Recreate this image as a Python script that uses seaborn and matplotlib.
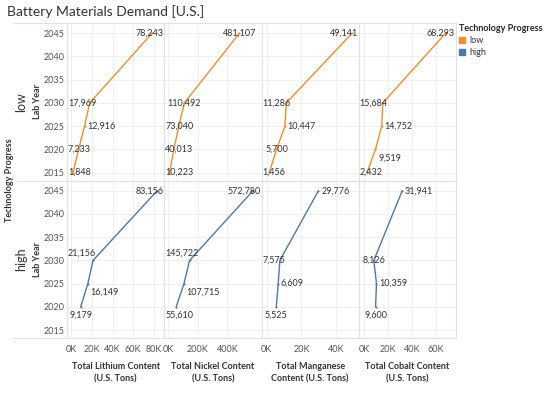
import pandas as pd
import seaborn as sns
import matplotlib.pyplot as plt
from matplotlib.lines import Line2D
from matplotlib.patches import Patch
from matplotlib.ticker import FuncFormatter

# data
progress = ["low", "high"]
materials = ["Lithium", "Nickel", "Manganese", "Cobalt"]
years_low = [2015, 2020, 2025, 2030, 2045]
years_high = [2020, 2025, 2030, 2045]

lithium_low = [1848, 7233, 12916, 17969, 78243]
nickel_low = [10223, 40013, 73040, 110492, 481107]
manganese_low = [1456, 5700, 10447, 11286, 49141]
cobalt_low = [2432, 9519, 14752, 15684, 68293]

lithium_high = [9179, 16149, 21156, 83156]
nickel_high = [55610, 107715, 145722, 572780]
manganese_high = [5525, 6609, 7575, 29776]
cobalt_high = [9600, 10359, 8126, 31941]

x_titles = ["Total Lithium Content\n(U.S. Tons)", "Total Nickel Content\n(U.S. Tons)",
            "Total Manganese\nContent (U.S. Tons)", "Total Cobalt Content\n(U.S. Tons)"]
x_limits = {"Lithium": (-4000, 90000), "Nickel": (-25000, 630000),
            "Manganese": (-3000, 53000), "Cobalt": (-4500, 77000)}
x_ticks = {"Lithium": [0, 20000, 40000, 60000, 80000], "Nickel": [0, 200000, 400000],
           "Manganese": [0, 20000, 40000], "Cobalt": [0, 20000, 40000, 60000]}

# label placement per point: c/l/r horizontally, b = below, a = above
label_pos = {
    ("low", "Lithium"): ["c", "c", "r", "l", "c"],
    ("low", "Nickel"): ["c", "c", "c", "c", "c"],
    ("low", "Manganese"): ["c", "c", "r", "l", "c"],
    ("low", "Cobalt"): ["c", "rb", "r", "l", "c"],
    ("high", "Lithium"): ["cb", "rb", "la", "c"],
    ("high", "Nickel"): ["cb", "rb", "la", "c"],
    ("high", "Manganese"): ["cb", "r", "l", "r"],
    ("high", "Cobalt"): ["cb", "r", "c", "r"],
}

palette = {"low": "#f28e2b", "high": "#4e79a7"}
TXT = "#333333"
TICK = "#555555"

rows = []
for mat, lo, hi in zip(materials,
                       [lithium_low, nickel_low, manganese_low, cobalt_low],
                       [lithium_high, nickel_high, manganese_high, cobalt_high]):
    for yr, v in zip(years_low, lo):
        rows.append({"progress": "low", "material": mat, "year": yr, "tons": v})
    for yr, v in zip(years_high, hi):
        rows.append({"progress": "high", "material": mat, "year": yr, "tons": v})
df = pd.DataFrame(rows)

sns.set_style("white")
plt.rcParams["font.family"] = ["Lato", "DejaVu Sans"]

g = sns.FacetGrid(df, row="progress", col="material", row_order=progress, col_order=materials,
                  sharex="col", sharey=True, height=1.6, aspect=0.6, despine=False)
g.map_dataframe(sns.lineplot, x="tons", y="year", hue="progress", hue_order=progress,
                palette=palette, orient="y", estimator=None, lw=1.0,
                marker="o", markersize=1.5, markeredgewidth=0)

fig = g.figure
fig.set_size_inches(5.5, 3.95)
fig.subplots_adjust(left=67 / 550, right=456 / 550, top=1 - 23 / 395, bottom=1 - 338 / 395,
                    wspace=0, hspace=0)

kformat = FuncFormatter(lambda v, p: f"{v / 1000:.0f}K")
for (prog, mat), ax in g.axes_dict.items():
    ax.set_title("")
    ax.set_xlim(*x_limits[mat])
    ax.set_xticks(x_ticks[mat])
    ax.xaxis.set_major_formatter(kformat)
    ax.set_ylim(2013.3, 2047.2)
    ax.set_yticks(range(2015, 2050, 5))
    ax.tick_params(length=0, labelsize=6.5, colors=TICK)
    ax.tick_params(axis="x", pad=5)
    ax.tick_params(axis="y", pad=2)
    ax.grid(True, color="#f0f0f0", lw=0.7)
    ax.set_axisbelow(True)
    for s in ax.spines.values():
        s.set_color("#e2e2e2")
        s.set_linewidth(0.8)
    ax.set_xlabel("")
    ax.set_ylabel("")

for j, mat in enumerate(materials):
    g.axes[1, j].set_xlabel(x_titles[j], fontsize=6.5, fontweight="bold", color=TXT,
                            labelpad=6, linespacing=1.5)

# mark labels
texts = []
for (prog, mat), ax in g.axes_dict.items():
    sub = df[(df.progress == prog) & (df.material == mat)].sort_values("year")
    for yr, val, code in zip(sub.year, sub.tons, label_pos[(prog, mat)]):
        ha = {"c": "center", "l": "right", "r": "left"}[code[0]]
        dx = {"c": 0, "l": 2, "r": 2}[code[0]]
        dy = -6 if "b" in code else (5 if "a" in code else 0)
        t = ax.annotate(f"{val:,}", xy=(val, yr), xytext=(dx, dy), textcoords="offset points",
                        ha=ha, va="center", fontsize=6.5, color=TXT)
        texts.append((ax, t))

# keep labels inside their pane
fig.canvas.draw()
renderer = fig.canvas.get_renderer()
for ax, t in texts:
    bb = t.get_window_extent(renderer)
    abb = ax.get_window_extent(renderer)
    shift = 0
    if bb.x0 < abb.x0 + 1:
        shift = abb.x0 + 1 - bb.x0
    elif bb.x1 > abb.x1 - 1:
        shift = abb.x1 - 1 - bb.x1
    if shift:
        dx, dy = t.xyann
        t.xyann = (dx + shift * 72 / fig.dpi, dy)

# header / row labels
fig.text(7 / 550, 1 - 16.5 / 395, "Battery Materials Demand [U.S.]", fontsize=10,
         color=TXT, va="baseline", ha="left")
fig.text(10 / 550, 1 - 180 / 395, "Technology Progress", rotation=90, fontsize=6.5,
         fontweight="bold", color=TXT, ha="center", va="center")
for i, prog in enumerate(progress):
    bb = g.axes[i, 0].get_position()
    ymid = (bb.y0 + bb.y1) / 2
    fig.text(21 / 550, ymid, prog, rotation=90, fontsize=9, color=TXT,
             ha="center", va="center")
    fig.text(37 / 550, ymid, "Lab Year", rotation=90, fontsize=6.5, fontweight="bold",
             color=TXT, ha="center", va="center")

for y, x0 in [(23, 13), (180.5, 16), (338, 13)]:
    fig.add_artist(Line2D([x0 / 550, 456 / 550], [1 - y / 395, 1 - y / 395],
                          transform=fig.transFigure, color="#e2e2e2", lw=0.8))

handles = [Patch(color=palette[p]) for p in progress]
fig.legend(handles, progress, title="Technology Progress", loc="upper left",
           bbox_to_anchor=(459 / 550, 1 - 24 / 395), frameon=False, fontsize=6.5,
           title_fontproperties={"weight": "bold", "size": 6.5}, handlelength=0.7,
           handleheight=0.7, handletextpad=0.5, labelspacing=0.35, alignment="left",
           borderaxespad=0, borderpad=0, labelcolor=TXT)

fig.savefig("out.png", dpi=100)
